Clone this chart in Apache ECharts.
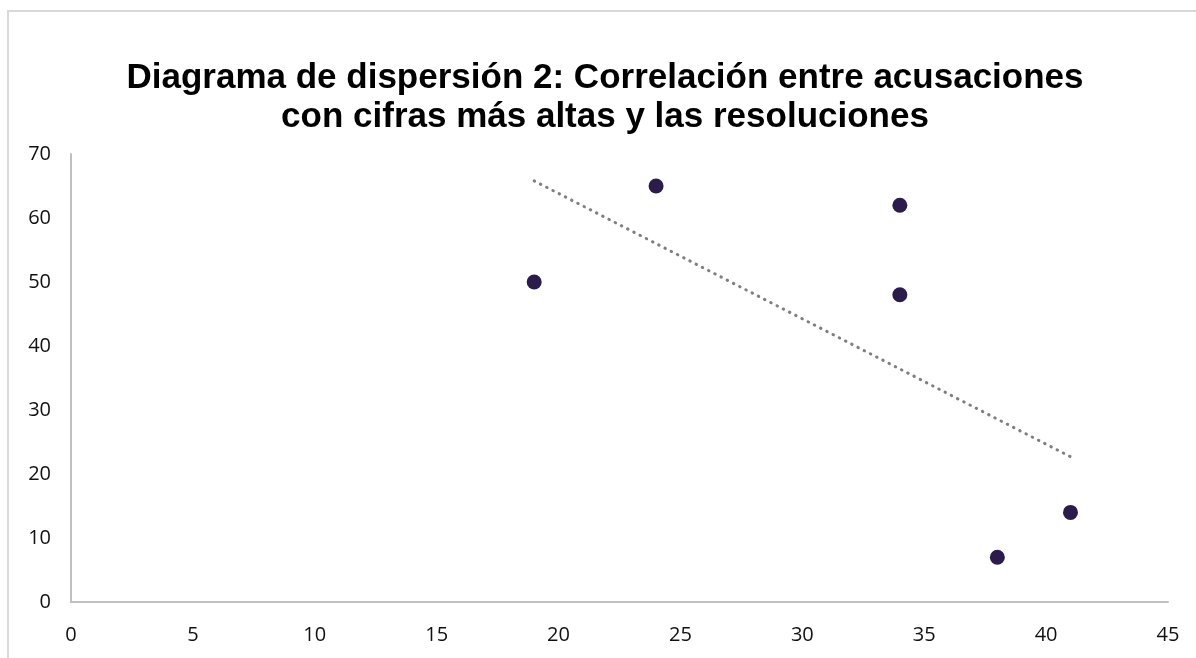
<!DOCTYPE html>
<html>
<head>
<meta charset="utf-8">
<script src="https://cdn.jsdelivr.net/npm/echarts@6/dist/echarts.min.js"></script>
<style>
  html, body { margin: 0; padding: 0; background: #fff; }
  #main { width: 1196px; height: 658px; }
</style>
</head>
<body>
<div id="main"></div>
<script>
  // puntos
  var acusaciones = [19, 24, 34, 34, 38, 41];
  var resoluciones = [50, 65, 62, 48, 7, 14];
  // línea de tendencia (extremos)
  var tendenciaX = [19, 41];
  var tendenciaY = [65.8, 22.7];
  var xTicks = [0, 5, 10, 15, 20, 25, 30, 35, 40, 45];
  var yTicks = [0, 10, 20, 30, 40, 50, 60, 70];

  var puntos = acusaciones.map(function (x, i) { return [x, resoluciones[i]]; });
  var tendencia = tendenciaX.map(function (x, i) { return [x, tendenciaY[i]]; });

  var chart = echarts.init(document.getElementById('main'));
  chart.setOption({
    animation: false,
    title: {
      text: 'Diagrama de dispersión 2: Correlación entre acusaciones\ncon cifras más altas y las resoluciones',
      left: 600,
      top: 54,
      textAlign: 'center',
      textStyle: {
        fontFamily: 'Liberation Sans',
        fontWeight: 'bold',
        fontSize: 35,
        lineHeight: 39,
        color: '#000'
      }
    },
    graphic: [{
      type: 'rect',
      shape: { x: 8, y: 11, width: 1300, height: 700 },
      style: { fill: 'none', stroke: '#d9d9d9', lineWidth: 2 },
      silent: true
    }],
    grid: { left: 71, right: 28, top: 154, bottom: 56 },
    xAxis: {
      type: 'value',
      min: xTicks[0],
      max: xTicks[xTicks.length - 1],
      interval: 5,
      splitLine: { show: false },
      axisTick: { show: false },
      axisLine: { show: true, lineStyle: { color: '#c0c0c0', width: 2 } },
      axisLabel: { margin: 23, fontSize: 20, color: '#111', fontFamily: 'Open Sans' }
    },
    yAxis: {
      type: 'value',
      min: yTicks[0],
      max: yTicks[yTicks.length - 1],
      interval: 10,
      splitLine: { show: false },
      axisTick: { show: false },
      axisLine: { show: true, lineStyle: { color: '#c0c0c0', width: 2 } },
      axisLabel: { margin: 20, fontSize: 20, color: '#111', fontFamily: 'Open Sans' }
    },
    series: [
      {
        type: 'line',
        data: tendencia,
        symbol: 'none',
        lineStyle: { color: '#7f7f7f', width: 3, type: [0.5, 6.5], cap: 'round' },
        z: 1
      },
      {
        type: 'scatter',
        data: puntos,
        symbolSize: 15,
        itemStyle: { color: '#2b1c4c', opacity: 1 },
        z: 2
      }
    ]
  });
</script>
</body>
</html>
